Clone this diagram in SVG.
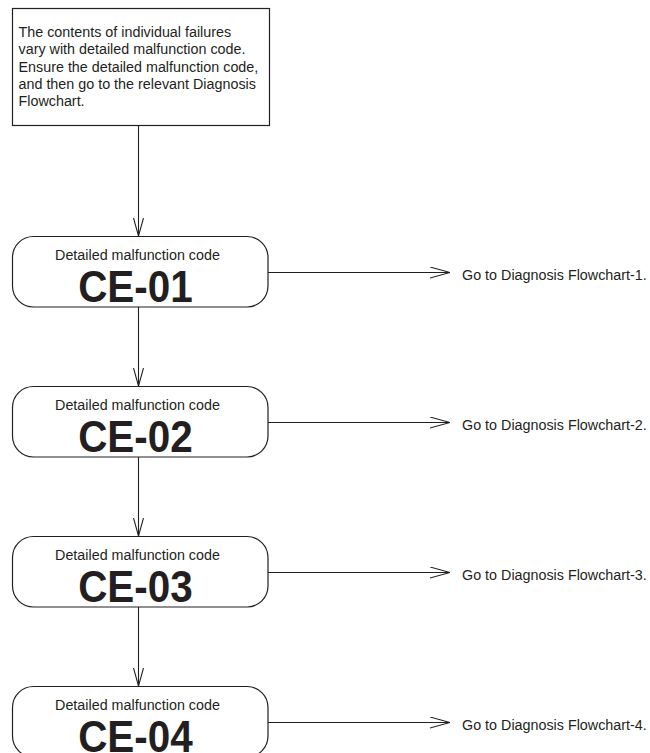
<svg xmlns="http://www.w3.org/2000/svg" width="650" height="753" viewBox="0 0 650 753">
<defs>
<style>
.box{fill:#fff;stroke:#231f20;stroke-width:1.2}
.ln{fill:none;stroke:#231f20;stroke-width:1.1}
.t{font-family:"Liberation Sans",Arial,sans-serif;font-size:15.5px;fill:#231f20}
.sub{font-family:"Liberation Sans",Arial,sans-serif;font-size:15.5px;fill:#231f20;text-anchor:middle}
.code{font-family:"Liberation Sans",Arial,sans-serif;font-size:44px;font-weight:bold;fill:#231f20;text-anchor:middle}
</style>
<marker id="ah" viewBox="0 0 20 12" refX="20" refY="6" markerWidth="20" markerHeight="12" markerUnits="userSpaceOnUse" orient="auto">
<path d="M0,0.5 L20,6 L0,11.5" fill="none" stroke="#231f20" stroke-width="1.1"/>
</marker>
<marker id="av" viewBox="0 0 18 11" refX="18" refY="5.5" markerWidth="18" markerHeight="11" markerUnits="userSpaceOnUse" orient="auto">
<path d="M0,0.5 L18,5.5 L0,10.5" fill="none" stroke="#231f20" stroke-width="1.1"/>
</marker>
</defs>
<rect width="650" height="753" fill="#fff"/>
<g id="connectors">
<line class="ln" x1="138.5" y1="125.5" x2="138.5" y2="236" marker-end="url(#av)"/>
<line class="ln" x1="138.5" y1="307" x2="138.5" y2="386" marker-end="url(#av)"/>
<line class="ln" x1="138.5" y1="457" x2="138.5" y2="536" marker-end="url(#av)"/>
<line class="ln" x1="138.5" y1="607" x2="138.5" y2="686" marker-end="url(#av)"/>
<line class="ln" x1="268" y1="272.5" x2="450" y2="272.5" marker-end="url(#ah)"/>
<line class="ln" x1="268" y1="422.5" x2="450" y2="422.5" marker-end="url(#ah)"/>
<line class="ln" x1="268" y1="572.5" x2="450" y2="572.5" marker-end="url(#ah)"/>
<line class="ln" x1="268" y1="722.5" x2="450" y2="722.5" marker-end="url(#ah)"/>
</g>
<g id="intro">
<rect class="box" x="12.5" y="8.5" width="257" height="117"/>
<text class="t" transform="translate(18.5,37.2) scale(0.925,1)">The contents of individual failures</text>
<text class="t" transform="translate(18.5,54.4) scale(0.925,1)">vary with detailed malfunction code.</text>
<text class="t" transform="translate(18.5,71.6) scale(0.925,1)">Ensure the detailed malfunction code,</text>
<text class="t" transform="translate(18.5,88.8) scale(0.925,1)">and then go to the relevant Diagnosis</text>
<text class="t" transform="translate(18.5,106) scale(0.925,1)">Flowchart.</text>
</g>
<g id="ce01">
<rect class="box" x="12.5" y="236.5" width="255.5" height="70.5" rx="21"/>
<text class="sub" transform="translate(137.5,259.5) scale(0.925,1)">Detailed malfunction code</text>
<text class="code" transform="translate(135.5,302) scale(0.92,1)">CE-01</text>
</g>
<g id="ce02">
<rect class="box" x="12.5" y="386.5" width="255.5" height="70.5" rx="21"/>
<text class="sub" transform="translate(137.5,409.5) scale(0.925,1)">Detailed malfunction code</text>
<text class="code" transform="translate(135.5,452) scale(0.92,1)">CE-02</text>
</g>
<g id="ce03">
<rect class="box" x="12.5" y="536.5" width="255.5" height="70.5" rx="21"/>
<text class="sub" transform="translate(137.5,559.5) scale(0.925,1)">Detailed malfunction code</text>
<text class="code" transform="translate(135.5,602) scale(0.92,1)">CE-03</text>
</g>
<g id="ce04">
<rect class="box" x="12.5" y="686.5" width="255.5" height="70.5" rx="21"/>
<text class="sub" transform="translate(137.5,709.5) scale(0.925,1)">Detailed malfunction code</text>
<text class="code" transform="translate(135.5,752) scale(0.92,1)">CE-04</text>
</g>
<g id="go1"><text class="t" transform="translate(462,279.5) scale(0.925,1)">Go to Diagnosis Flowchart-1.</text></g>
<g id="go2"><text class="t" transform="translate(462,429.5) scale(0.925,1)">Go to Diagnosis Flowchart-2.</text></g>
<g id="go3"><text class="t" transform="translate(462,579.5) scale(0.925,1)">Go to Diagnosis Flowchart-3.</text></g>
<g id="go4"><text class="t" transform="translate(462,729.5) scale(0.925,1)">Go to Diagnosis Flowchart-4.</text></g>
</svg>
